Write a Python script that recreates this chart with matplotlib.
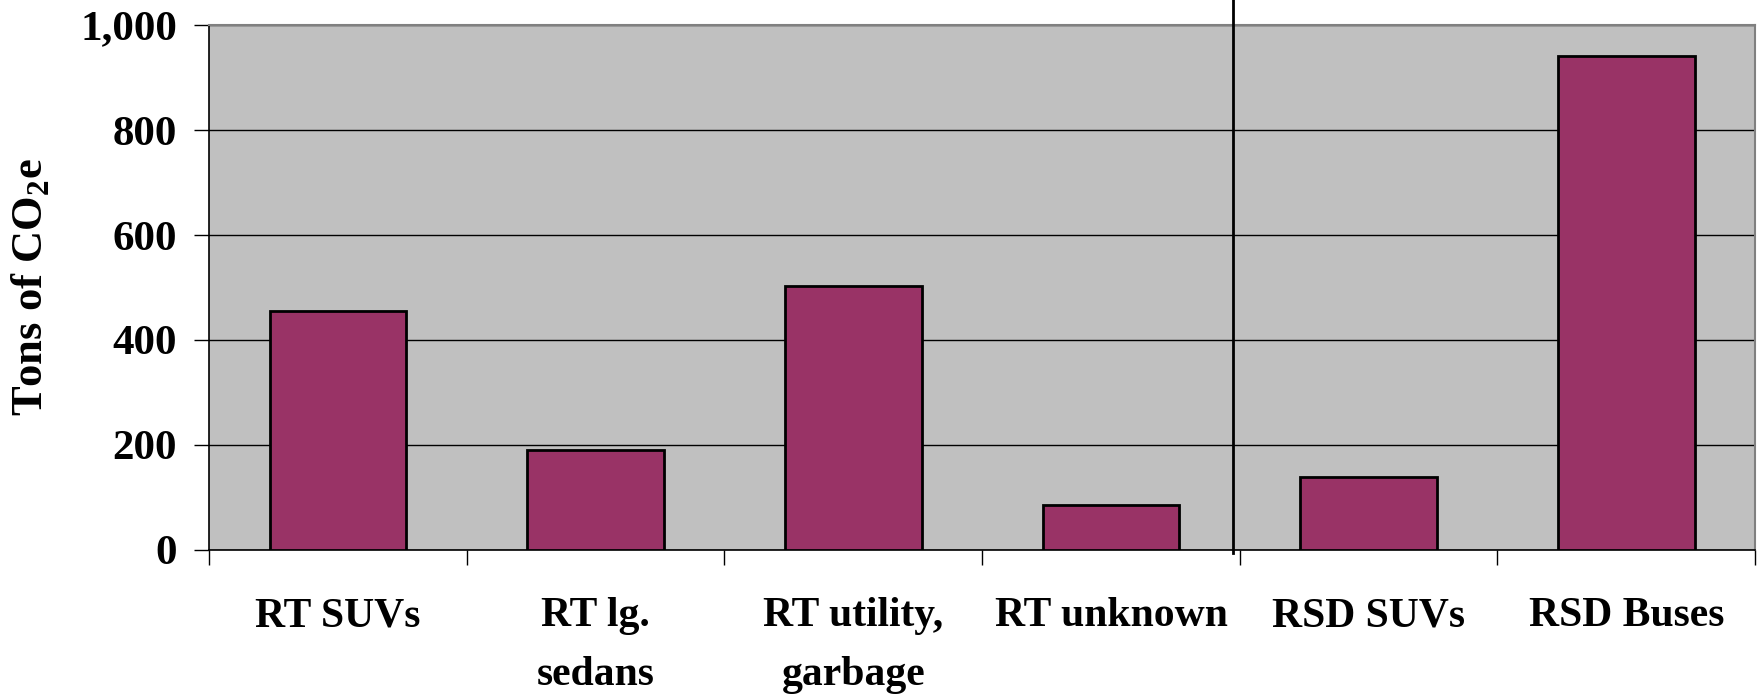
import numpy as np
import matplotlib
matplotlib.use("Agg")
import matplotlib.pyplot as plt

plt.rcParams["font.family"] = ["Liberation Serif", "DejaVu Serif"]
plt.rcParams["font.weight"] = "bold"
plt.rcParams["mathtext.fontset"] = "custom"
plt.rcParams["mathtext.bf"] = "Liberation Serif:bold"
plt.rcParams["mathtext.rm"] = "Liberation Serif:bold"

categories = ["RT SUVs", "RT lg.\nsedans", "RT utility,\ngarbage", "RT unknown", "RSD SUVs", "RSD Buses"]
tons = [456, 191, 503, 86, 139, 942]
yTicks = [0, 200, 400, 600, 800, 1000]
yTickLabels = ["0", "200", "400", "600", "800", "1,000"]

fig = plt.figure(figsize=(17.64, 6.97), dpi=100)
ax = fig.add_axes([0.1185, 0.211, 0.8765, 0.753])
ax.set_facecolor("#C0C0C0")

x = np.arange(len(categories))
ax.bar(x, tons, width=0.53, color="#993366", edgecolor="black", linewidth=2, zorder=3)

ax.set_xlim(-0.5, len(categories) - 0.5)
ax.set_ylim(0, 1000)
ax.set_yticks(yTicks)
ax.set_yticklabels(yTickLabels, fontsize=31, fontweight="bold")
ax.yaxis.grid(True, color="black", linewidth=1, zorder=0)
ax.set_axisbelow(True)

# category labels centred on the bars, ticks at the category boundaries
ax.set_xticks(x)
ax.set_xticklabels(categories, fontsize=30, fontweight="bold", linespacing=1.72)
ax.tick_params(axis="x", which="major", length=0, pad=34)
ax.set_xticks(np.arange(-0.5, len(categories)), minor=True)
ax.tick_params(axis="x", which="minor", length=11, width=1, direction="out")
ax.tick_params(axis="y", length=11, width=1, direction="out", pad=12)

for side in ["top", "right"]:
    ax.spines[side].set_color("#808080")
    ax.spines[side].set_linewidth(1.5)
for side in ["left", "bottom"]:
    ax.spines[side].set_color("black")
    ax.spines[side].set_linewidth(1.2)

ax.set_ylabel(r"Tons of CO$_\mathbf{2}$e", fontsize=32, fontweight="bold", labelpad=20)

# separator between RT and RSD groups
ax.plot([3.474, 3.474], [-6, 1050], color="black", linewidth=2, clip_on=False, zorder=5)

fig.savefig("out.png", dpi=100)
